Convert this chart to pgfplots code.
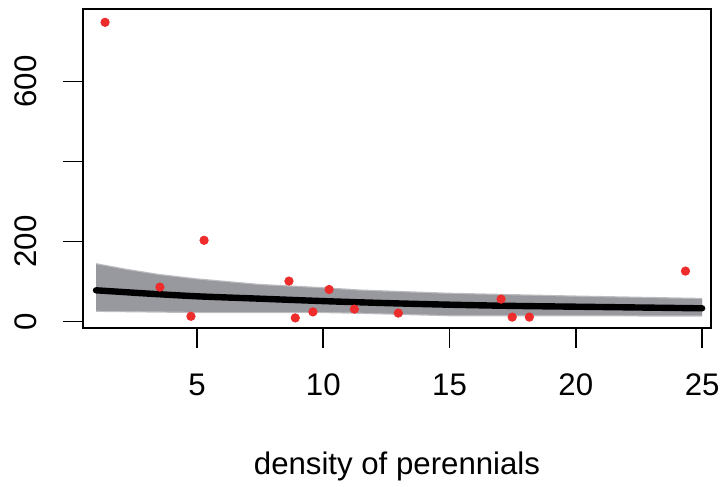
\documentclass[border=0pt]{standalone}
\usepackage{pgfplots}
\pgfplotsset{compat=1.18}
\usepackage{fontspec}
\setmainfont{Liberation Sans}
\definecolor{ptred}{RGB}{238,44,44}
\definecolor{bandgray}{RGB}{152,153,158}
\definecolor{bandlight}{RGB}{190,190,194}
\begin{document}
\begin{tikzpicture}
\begin{axis}[
  scale only axis,
  width=313.7bp, height=159.2bp,
  xmin=0.497, xmax=25.34,
  ymin=-15.5, ymax=780.5,
  axis line style={line width=0.9bp},
  xtick={5,10,15,20,25},
  ytick={0,200,400,600},
  yticklabels={0,200,,600},
  tick align=outside,
  major tick length=10bp,
  tick style={line width=0.9bp, black},
  xtick pos=bottom, ytick pos=left,
  /pgf/number format/assume math mode=true,
  tick label style={font=\fontsize{15.6bp}{18bp}\selectfont},
  xticklabel style={anchor=north, yshift=-9.5bp},
  yticklabel style={rotate=90, anchor=south, yshift=9.5bp},
  xlabel={density of perennials},
  xlabel style={font=\fontsize{15.6bp}{18bp}\selectfont, at={(axis description cs:0.5,0)}, anchor=base, yshift=-73.5bp},
  clip=true,
]
\addplot[fill=bandlight, draw=none] coordinates {
(1,146) (2.2,132) (3.5,119) (5,108) (7.5,94) (10,86) (11.5,80) (15,72) (20,65) (25,59)
(25,12) (20,13) (15,13) (11.5,19) (10,21) (5,21) (1,24)
};
\addplot[fill=bandgray, draw=none] coordinates {
(1,143) (2.2,129) (3.5,116) (5,105) (7.5,91) (10,83) (11.5,77) (15,69) (20,62) (25,56)
(25,15) (20,16) (15,16) (11.5,22) (10,24) (5,24) (1,27)
};
\addplot[black, line width=3.2bp, line cap=round, smooth] coordinates {
(1,78) (2,74) (3,70) (5,63) (7.5,57) (10,51) (12.5,46) (15,42) (17.5,39) (20,37) (22.5,35) (25,33)
};
\addplot[only marks, mark=*, mark size=2.1bp, ptred, mark options={draw=ptred, fill=ptred}] coordinates {
(1.36,748) (3.53,86) (4.76,13) (5.28,203) (8.64,101) (8.89,9) (9.59,24) (10.23,80) (11.23,31)
(12.97,21) (17.04,56) (17.48,11) (18.16,11) (24.34,126)
};
\end{axis}
\pgfresetboundingbox
\path ([shift={(-41.65bp,-79.65bp)}]current axis.south west) rectangle ([shift={(6.15bp,4.65bp)}]current axis.north east);
\end{tikzpicture}
\end{document}
